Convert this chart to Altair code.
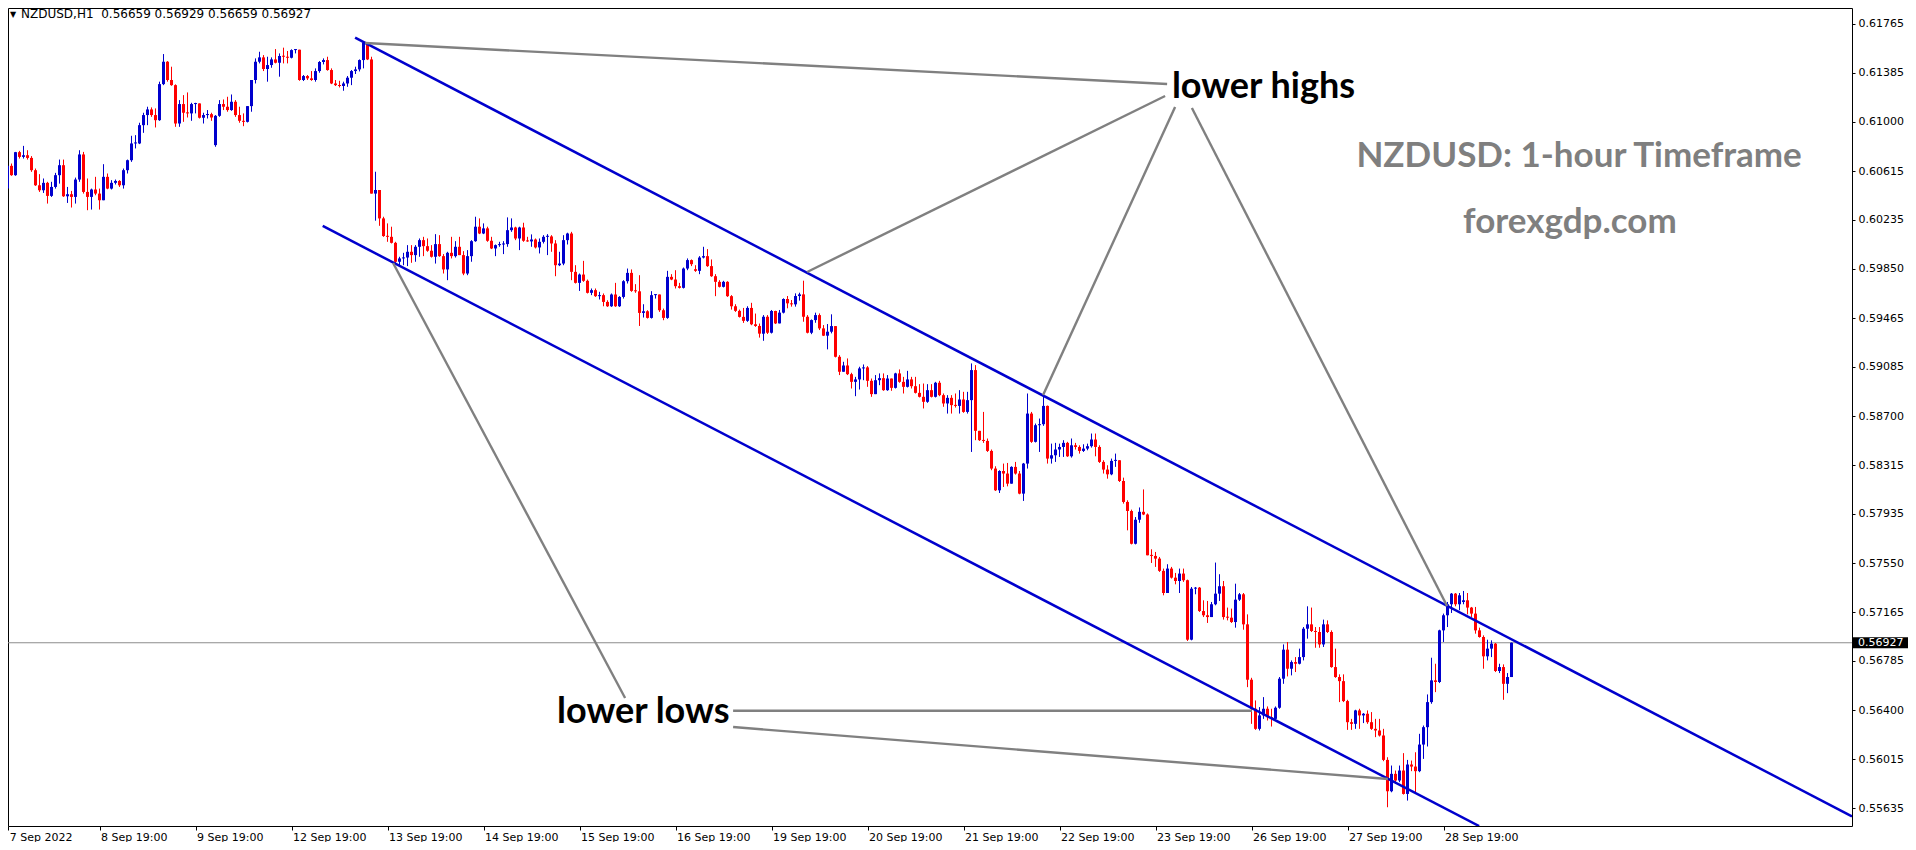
import altair as alt
import pandas as pd

# ---------------- data (prices in points, 1 point = 0.00001) ----------------
close_pts = [
60478,60656,60583,60763,60726,60739,60718,60622,60504,60465,60523,60421,60491,60583,60661,60418,60434,60413,60549,60745,
60452,60413,60471,60439,60387,60570,60478,60523,60538,60504,60622,60700,60831,60831,60974,61053,61097,61053,61013,61295,
61470,61327,61287,60987,61139,61071,61066,61139,61144,61032,61053,61060,61034,61047,61139,61118,61092,61157,61053,61008,
61000,61123,61327,61470,61504,61413,61444,61488,61462,61515,61509,61501,61561,61564,61327,61358,61340,61327,61397,61468,
61483,61405,61300,61287,61280,61300,61345,61397,61410,61483,61619,61488,60439,60467,60245,60107,60101,60054,59906,59932,
59939,59984,59958,60023,60075,60028,59992,59945,60044,59950,59846,59976,59950,60023,59958,59814,59950,60067,60180,60127,
60167,60070,60010,60036,60041,60044,60153,60174,60088,60174,60070,60065,60080,60018,60062,60101,60104,60049,59879,59892,
60075,60127,59827,59741,59806,59757,59663,59684,59637,59645,59592,59558,59650,59558,59631,59754,59819,59678,59675,59506,
59519,59467,59645,59650,59527,59467,59788,59767,59715,59702,59853,59919,59887,59835,59939,59950,59872,59793,59749,59710,
59749,59637,59558,59522,59475,59444,59545,59417,59404,59344,59476,59351,59521,59424,59508,59615,59581,59573,59638,59651,
59476,59351,59450,59489,59385,59328,59359,59403,59163,59046,59095,59027,58967,58986,59072,59080,58975,58871,58980,58996,
58902,58993,58920,59033,58967,58928,58986,58933,58881,58850,58811,58902,58850,58960,58863,58798,58842,58785,58779,58829,
58732,58824,59059,58584,58511,58505,58427,58289,58119,58270,58250,58171,58302,58250,58093,58328,58719,58498,58628,58636,
58779,58367,58393,58438,58458,58490,58385,58471,58458,58427,58445,58464,58516,58458,58341,58281,58244,58349,58354,58192,
58028,57957,57701,57889,57951,57930,57611,57606,57585,57489,57316,57507,57436,57410,57468,57416,56951,57350,57358,57175,
57142,57128,57228,57311,57369,57128,57123,57089,57264,57306,57071,56638,56411,56254,56359,56411,56345,56332,56419,56646,
56873,56724,56776,56763,56815,57037,57071,57019,57011,56914,57071,57011,56737,56659,56627,56471,56306,56293,56398,56359,
56372,56306,56254,56241,56202,56011,55766,55902,55850,55928,55745,55975,55959,55923,56131,56267,56463,56633,56620,57024,
57142,57228,57311,57228,57298,57259,57202,57155,57024,56972,56821,56881,56920,56706,56737,56606,56659,56927,
]
high_pts = [
60491,60700,60674,60765,60773,60812,60778,60732,60635,60591,60557,60531,60531,60601,60705,60705,60491,60460,60564,60778,
60765,60557,60478,60570,60478,60669,60596,60544,60549,60544,60635,60705,60891,60896,60993,61071,61118,61113,61105,61314,
61530,61475,61431,61293,61170,61209,61230,61149,61149,61144,61071,61092,61071,61053,61170,61175,61196,61214,61170,61118,
61066,61123,61327,61496,61548,61522,61509,61504,61569,61535,61580,61554,61567,61569,61548,61366,61366,61397,61418,61475,
61496,61509,61418,61327,61321,61314,61358,61405,61431,61488,61627,61614,61509,60610,60459,60258,60206,60180,60062,59945,
59976,60036,60036,60036,60088,60101,60088,60036,60122,60114,59966,59984,60101,60067,60101,59989,59997,60075,60258,60245,
60206,60180,60101,60041,60062,60067,60253,60245,60180,60180,60211,60101,60120,60088,60088,60114,60122,60114,60075,59984,
60114,60133,60140,59879,59814,59913,59767,59697,59697,59671,59658,59605,59658,59741,59637,59762,59853,59846,59731,59801,
59574,59527,59676,59652,59645,59540,59835,59809,59840,59741,59861,59932,59924,59879,59950,60023,60005,59924,59809,59762,
59757,59754,59645,59574,59532,59545,59558,59585,59501,59423,59489,59489,59529,59523,59529,59620,59638,59607,59659,59664,
59758,59489,59455,59508,59502,59411,59419,59495,59403,59176,59124,59150,59038,59006,59085,59103,59090,58993,59020,59033,
59033,59020,58993,59038,59064,59006,59053,59006,59006,58949,58954,58949,58949,58967,58975,58876,58863,58863,58876,58902,
58889,58889,59111,59098,58581,58732,58524,58438,58307,58276,58328,58333,58307,58341,58270,58333,58876,58732,58641,58680,
58863,58782,58484,58490,58484,58511,58498,58524,58490,58471,58479,58484,58563,58563,58471,58354,58315,58367,58406,58341,
58218,58041,57968,57910,57985,58126,57938,57658,57637,57598,57507,57541,57520,57473,57507,57507,57421,57363,57363,57363,
57259,57254,57246,57554,57463,57410,57202,57194,57389,57316,57316,57149,56653,56476,56424,56502,56429,56411,56429,56659,
56914,56933,56789,56815,56881,57050,57212,57202,57050,57050,57108,57102,57024,56881,56680,56680,56481,56332,56403,56411,
56377,56398,56385,56332,56332,56254,56032,55967,55928,55967,56064,56011,56006,56071,56215,56280,56523,56810,56763,57029,
57155,57246,57316,57316,57316,57332,57316,57207,57207,57045,56985,56951,56946,56925,56763,56758,56690,56929,
]
low_pts = [
60296,60471,60578,60578,60713,60713,60705,60609,60499,60452,60444,60361,60413,60478,60517,60413,60366,60330,60361,60531,
60439,60309,60314,60426,60314,60387,60473,60471,60510,60491,60478,60596,60687,60792,60826,60914,60974,61039,60956,61008,
61287,61314,61282,60961,60961,61000,61034,61008,61066,61026,60987,61026,61008,60805,61039,61092,61079,61086,61039,60993,
60966,60995,61079,61300,61457,61397,61314,61423,61457,61353,61457,61457,61496,61535,61321,61319,61327,61321,61314,61384,
61449,61400,61295,61280,61269,61243,61274,61287,61374,61394,61418,61483,60439,60227,60187,60101,60062,60049,59892,59879,
59879,59872,59898,59906,59945,59950,59984,59939,59892,59945,59814,59762,59932,59939,59958,59801,59801,59906,60062,60122,
60122,60062,60005,59950,60023,59966,60023,60140,60075,59997,60062,60062,60023,60010,59971,60049,59958,59984,59793,59872,
59879,60041,59762,59736,59678,59749,59658,59645,59631,59611,59558,59553,59553,59553,59553,59618,59736,59671,59663,59404,
59470,59462,59462,59618,59514,59449,59460,59762,59697,59697,59697,59840,59872,59827,59809,59932,59866,59788,59637,59705,
59705,59631,59532,59514,59470,59428,59436,59410,59397,59313,59288,59341,59345,59419,59445,59502,59542,59555,59555,59602,
59437,59346,59340,59429,59372,59325,59221,59346,59158,59020,59046,59020,58915,58855,58907,58980,58928,58850,58871,58941,
58897,58897,58897,58915,58960,58876,58923,58915,58876,58845,58759,58803,58845,58845,58855,58772,58719,58719,58766,58719,
58725,58719,58419,58511,58505,58490,58419,58276,58114,58098,58145,58150,58171,58242,58088,58036,58289,58490,58493,58419,
58623,58328,58328,58341,58380,58380,58380,58375,58438,58406,58419,58432,58453,58385,58333,58250,58210,58237,58302,58184,
58015,57806,57696,57696,57865,57925,57611,57551,57520,57481,57298,57319,57429,57384,57316,57403,56941,56946,57306,57168,
57128,57082,57134,57220,57254,57108,57102,57082,57045,57254,57029,56580,56293,56246,56241,56332,56319,56272,56332,56411,
56606,56664,56672,56698,56758,56789,56959,57011,56888,56888,56894,57003,56732,56653,56463,56463,56246,56246,56254,56254,
56299,56293,56246,56189,56194,56001,55641,55758,55823,55837,55740,55693,55923,55750,55915,56019,56116,56450,56541,56612,
56933,57050,57160,57212,57181,57228,57149,57128,56998,56967,56724,56789,56815,56698,56690,56481,56533,56659,
]
# opens that differ from the previous close (first bar and weekend gaps)
gap_open_pts = {0: 60309, 53: 60818, 173: 59848, 365: 57246}

date_labels = ["7 Sep 2022", "8 Sep 19:00", "9 Sep 19:00", "12 Sep 19:00", "13 Sep 19:00",
               "14 Sep 19:00", "15 Sep 19:00", "16 Sep 19:00", "19 Sep 19:00", "20 Sep 19:00",
               "21 Sep 19:00", "22 Sep 19:00", "23 Sep 19:00", "26 Sep 19:00", "27 Sep 19:00",
               "28 Sep 19:00"]
price_ticks = [0.61765, 0.61385, 0.61000, 0.60615, 0.60235, 0.59850, 0.59465, 0.59085, 0.58700,
               0.58315, 0.57935, 0.57550, 0.57165, 0.56785, 0.56400, 0.56015, 0.55635]
last_price = 0.56927
header_text = "NZDUSD,H1\u00a0\u00a00.56659 0.56929 0.56659 0.56927"

# channel lines (bar index, price)
blue_seg = ["up", "up", "low", "low"]
blue_i = [87.9, 462.1, 79.8, 368.9]
blue_p = [0.61658, 0.55570, 0.60186, 0.55494]

gray_seg = ["g1", "g1", "g2", "g2", "g3", "g3", "g4", "g4", "g5", "g5", "g6", "g6", "g7", "g7"]
gray_i = [90.4, 290.9, 200.9, 290.4, 259.9, 292.9, 297.1, 360.9, 97.4, 155.4, 182.4, 312.1, 182.4, 346.1]
gray_p = [0.61616, 0.61296, 0.59826, 0.61202, 0.58864, 0.61116, 0.61108, 0.57214,
          0.59896, 0.56495, 0.56395, 0.56395, 0.56268, 0.55862]

# ---------------- build tables ----------------
n = len(close_pts)
rows = []
for k in range(n):
    o = gap_open_pts.get(k, close_pts[k - 1] if k else close_pts[0]) / 1e5
    c = close_pts[k] / 1e5
    h = max(high_pts[k] / 1e5, o, c)
    l = min(low_pts[k] / 1e5, o, c)
    b1, b2 = min(o, c), max(o, c)
    if b2 - b1 < 0.00008:
        b2 = b1 + 0.00008
    rows.append({"i": k, "o": o, "h": h, "l": l, "c": c, "b1": b1, "b2": b2,
                 "x1": k - 0.375, "x2": k + 0.375,
                 "dir": "up" if c >= o else "down"})
bars = pd.DataFrame(rows)

blue_df = pd.DataFrame({"seg": blue_seg, "i": blue_i, "p": blue_p})
gray_df = pd.DataFrame({"seg": gray_seg, "i": gray_i, "p": gray_p})

W, H = 1844, 818
xs = alt.Scale(domain=[1.125, 462.125], nice=False, zero=False)
ys = alt.Scale(domain=[0.554943, 0.618901], nice=False, zero=False)
col = alt.Scale(domain=["up", "down"], range=["#0000CD", "#FF0000"])

tick_vals = [1.2] + [24 * k for k in range(1, len(date_labels))]
label_expr = "[" + ",".join("'" + s + "'" for s in date_labels) + "][round(datum.value/24)]"

x_axis = alt.Axis(values=tick_vals, labelExpr=label_expr, grid=False, domain=False,
                  tickSize=4, tickColor="black", labelAlign="left", labelBaseline="top",
                  labelPadding=1, labelOffset=1, labelFlush=False, labelOverlap=False,
                  labelFont="DejaVu Sans", labelFontSize=11, labelColor="black", title=None)
y_axis = alt.Axis(orient="right", values=price_ticks, format=".5f", grid=False, domain=False,
                  tickSize=3, tickColor="black", labelAlign="left", labelBaseline="middle",
                  labelPadding=3, labelFlush=False, labelOverlap=False,
                  labelFont="DejaVu Sans", labelFontSize=11, labelColor="black", title=None)

base = alt.Chart(bars)

price_line = alt.Chart(pd.DataFrame({"p": [last_price]})).mark_rule(
    color="#8c8c8c", strokeWidth=1).encode(
    y=alt.Y("p:Q", scale=ys, axis=y_axis))

wicks = base.mark_rule(strokeWidth=1, clip=True).encode(
    x=alt.X("i:Q", scale=xs, axis=x_axis),
    y=alt.Y("l:Q", scale=ys),
    y2="h:Q",
    color=alt.Color("dir:N", scale=col, legend=None))

bodies = base.mark_rect(strokeWidth=0, clip=True).encode(
    x=alt.X("x1:Q", scale=xs),
    x2="x2:Q",
    y=alt.Y("b1:Q", scale=ys),
    y2="b2:Q",
    color=alt.Color("dir:N", scale=col, legend=None))

blue_lines = alt.Chart(blue_df).mark_line(color="#0000CD", strokeWidth=2.5, clip=True).encode(
    x=alt.X("i:Q", scale=xs), y=alt.Y("p:Q", scale=ys), detail="seg:N")

gray_lines = alt.Chart(gray_df).mark_line(color="#808080", strokeWidth=2.4, clip=True).encode(
    x=alt.X("i:Q", scale=xs), y=alt.Y("p:Q", scale=ys), detail="seg:N")

ann_black = alt.Chart(pd.DataFrame({
    "t": ["lower highs", "lower lows"], "i": [292.1, 138.4], "p": [0.61186, 0.56302]})
).mark_text(font="Lato", fontWeight="bold", fontSize=36, color="black",
            align="left", baseline="alphabetic").encode(
    x=alt.X("i:Q", scale=xs), y=alt.Y("p:Q", scale=ys), text="t:N")

ann_gray = alt.Chart(pd.DataFrame({
    "t": ["NZDUSD: 1-hour Timeframe", "forexgdp.com"], "i": [393.9, 391.6], "p": [0.60649, 0.60131]})
).mark_text(font="Lato", fontWeight="bold", fontSize=35, color="#7f7f7f",
            align="center", baseline="alphabetic").encode(
    x=alt.X("i:Q", scale=xs), y=alt.Y("p:Q", scale=ys), text="t:N")

box_df = pd.DataFrame({"p": [last_price], "p1": [last_price - 0.00043], "p2": [last_price + 0.00043],
                       "t": [f"{last_price:.5f}"]})
price_box = alt.Chart(box_df).mark_rect(color="black", clip=False).encode(
    x=alt.value(W + 1), x2=alt.value(W + 58),
    y=alt.Y("p1:Q", scale=ys), y2="p2:Q")
price_txt = alt.Chart(box_df).mark_text(color="white", font="DejaVu Sans", fontSize=11,
                                        align="left", baseline="middle", clip=False).encode(
    x=alt.value(W + 6), y=alt.Y("p:Q", scale=ys), text="t:N")

header = alt.Chart(pd.DataFrame({"t": [header_text]})).mark_text(
    font="DejaVu Sans", fontSize=12, color="black", align="left", baseline="alphabetic").encode(
    x=alt.value(13), y=alt.value(10), text="t:N")
tri = alt.Chart(pd.DataFrame({"t": ["▼"]})).mark_text(
    font="DejaVu Sans", fontSize=8, color="black", align="left", baseline="alphabetic").encode(
    x=alt.value(2), y=alt.value(9), text="t:N")

chart = alt.layer(price_line, wicks, bodies, blue_lines, gray_lines, ann_black, ann_gray,
                  price_box, price_txt, header, tri).properties(
    width=W, height=H,
    autosize=alt.AutoSizeParams(type="none"),
    padding={"left": 0, "top": 0, "right": 56, "bottom": 16},
    background="white",
).configure_view(stroke="black", strokeWidth=1)

chart.save("out.html", embed_options={"renderer": "svg", "actions": False})
